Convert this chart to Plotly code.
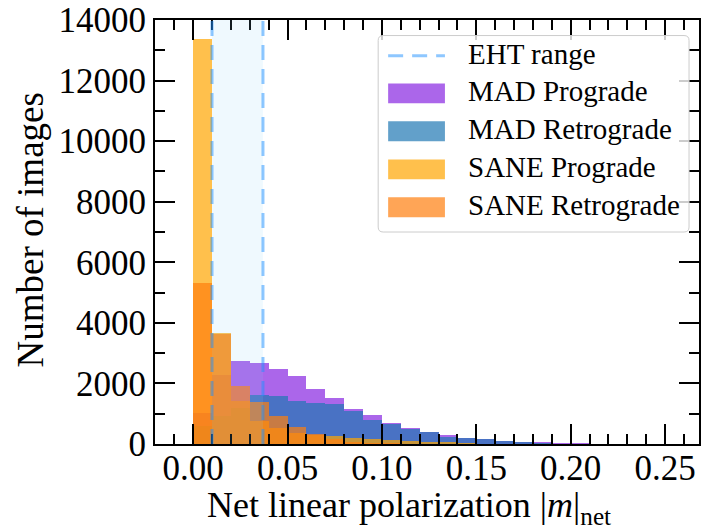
import plotly.graph_objects as go

# ---- histogram data: counts per 0.01-wide bin of |m|_net, bins starting at 0 ----
bin_width = 0.01
bin_centers = [0.005 + 0.01 * i for i in range(21)]

mad_prograde = [1036, 2280, 2750, 2660, 2475, 2235, 1820, 1505, 1155, 950, 710,
                535, 400, 285, 210, 160, 110, 76, 65, 40, 20]
mad_retrograde = [611, 927, 1200, 1603, 1581, 1407, 1352, 1308, 1079, 807, 676,
                  480, 382, 240, 200, 153, 87, 54, 22, 10, 0]
sane_prograde = [13380, 3650, 1407, 752, 530, 360, 300, 251, 207, 164, 131,
                 98, 76, 65, 33, 15, 0, 0, 0, 0, 0]
sane_retrograde = [5330, 3630, 1930, 1384, 916, 546, 316, 153, 65, 30, 20,
                   10, 0, 0, 0, 0, 0, 0, 0, 0, 0]

series_names = ["MAD Prograde", "MAD Retrograde", "SANE Prograde", "SANE Retrograde"]
series_values = [mad_prograde, mad_retrograde, sane_prograde, sane_retrograde]
series_colors = ["rgba(138,43,226,0.72)", "rgba(31,119,180,0.7)",
                 "rgba(255,165,0,0.7)", "rgba(255,127,14,0.7)"]

eht_low, eht_high = 0.01, 0.037

# ---- figure geometry (pixels) ----
W, H = 702, 532
L, R, T, B = 155, 1, 16, 88
PW, PH = W - L - R, H - T - B
FONT = "Liberation Serif"


def px_x(p):
    return (p - L) / PW


def px_y(p):
    return (H - B - p) / PH


fig = go.Figure()
for name, vals, col in zip(series_names, series_values, series_colors):
    fig.add_trace(go.Bar(x=bin_centers, y=vals, width=bin_width, name=name,
                         marker=dict(color=col, line=dict(width=0)),
                         showlegend=False))

shapes = []
# shaded EHT band on top of the bars
shapes.append(dict(type="rect", xref="x", yref="paper", x0=eht_low, x1=eht_high,
                   y0=0, y1=1, fillcolor="rgba(135,206,250,0.13)",
                   line=dict(width=0), layer="above"))
for xv in (eht_low, eht_high):
    shapes.append(dict(type="line", xref="x", yref="paper", x0=xv, x1=xv, y0=0, y1=1,
                       line=dict(color="rgba(30,144,255,0.5)", width=3, dash="15px,9px"),
                       layer="above"))

# legend frame with rounded corners
bx0, bx1, by0, by1, rad = 379, 691, 31.7, 230, 5
rx, ry = rad / PW, rad / PH
X0, X1, Y0, Y1 = px_x(bx0), px_x(bx1), px_y(by1), px_y(by0)
path = (f"M{X0+rx},{Y0} L{X1-rx},{Y0} Q{X1},{Y0} {X1},{Y0+ry} "
        f"L{X1},{Y1-ry} Q{X1},{Y1} {X1-rx},{Y1} L{X0+rx},{Y1} "
        f"Q{X0},{Y1} {X0},{Y1-ry} L{X0},{Y0+ry} Q{X0},{Y0} {X0+rx},{Y0} Z")
shapes.append(dict(type="path", xref="paper", yref="paper", path=path,
                   fillcolor="rgba(255,255,255,0.8)",
                   line=dict(color="rgb(204,204,204)", width=1), layer="above"))

row_y = [52, 90, 128.3, 166.7, 205]
sw_x0, sw_x1, sw_h = 389, 446, 20
text_x = 467
shapes.append(dict(type="line", xref="paper", yref="paper",
                   x0=px_x(sw_x0), x1=px_x(sw_x1), y0=px_y(row_y[0]), y1=px_y(row_y[0]),
                   line=dict(color="rgba(30,144,255,0.5)", width=3, dash="15px,9px"),
                   layer="above"))
for ry_, col in zip(row_y[1:], series_colors):
    shapes.append(dict(type="rect", xref="paper", yref="paper",
                       x0=px_x(sw_x0), x1=px_x(sw_x1),
                       y0=px_y(ry_ + sw_h / 2), y1=px_y(ry_ - sw_h / 2),
                       fillcolor=col, line=dict(width=0), layer="above"))

annotations = []
for ry_, label in zip(row_y, ["EHT range"] + series_names):
    annotations.append(dict(xref="paper", yref="paper", x=px_x(text_x), y=px_y(ry_ - 2),
                            text=label, showarrow=False, xanchor="left", yanchor="middle",
                            font=dict(family=FONT, size=29, color="black")))

# axis titles
annotations.append(dict(xref="paper", yref="paper", x=px_x(410), y=px_y(508),
                        text="Net linear polarization |<i>m</i>|<sub>net</sub>",
                        showarrow=False, xanchor="center", yanchor="middle",
                        font=dict(family=FONT, size=36, color="black")))
annotations.append(dict(xref="paper", yref="paper", x=px_x(30), y=px_y(228),
                        text="Number of images", textangle=-90,
                        showarrow=False, xanchor="center", yanchor="middle",
                        font=dict(family=FONT, size=37, color="black")))

axis_common = dict(showline=True, linewidth=2, linecolor="black", mirror="ticks",
                   ticks="inside", ticklen=20, tickwidth=1.6, tickcolor="black",
                   showgrid=False, zeroline=False, ticklabeloverflow="allow",
                   tickfont=dict(family=FONT, size=35, color="black"))

fig.update_layout(
    width=W, height=H,
    margin=dict(l=L, r=R, t=T, b=B, pad=0),
    paper_bgcolor="white", plot_bgcolor="white",
    barmode="overlay", bargap=0,
    shapes=shapes, annotations=annotations,
    xaxis=dict(range=[-0.0202, 0.2680], tick0=0, dtick=0.05, tickformat=".2f",
               minor=dict(dtick=0.01, tick0=0, ticks="inside", ticklen=10,
                          tickwidth=1.6, tickcolor="black"),
               ticklabelstandoff=-8,
               **axis_common),
    yaxis=dict(range=[0, 14000.01], tick0=0, dtick=2000, tickformat="d",
               minor=dict(dtick=1000, tick0=0, ticks="inside", ticklen=10,
                          tickwidth=1.6, tickcolor="black"),
               ticklabelstandoff=0,
               **axis_common),
)

fig.write_html("out.html")
